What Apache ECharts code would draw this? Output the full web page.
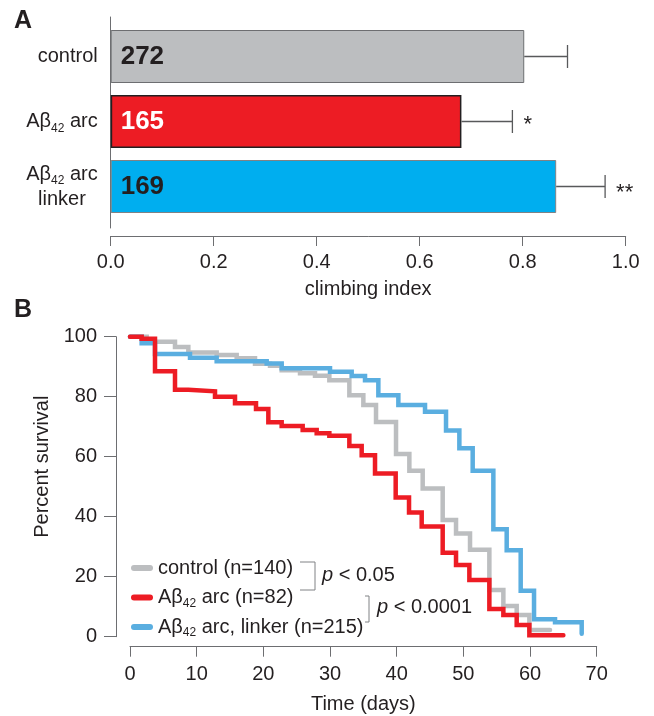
<!DOCTYPE html>
<html><head><meta charset="utf-8">
<script src="https://cdn.jsdelivr.net/npm/echarts@6/dist/echarts.min.js"></script>
<style>html,body{margin:0;padding:0;background:#fff}#c{width:654px;height:716px}</style>
</head><body><div id="c"></div>
<script>
// ---------- Panel A data ----------
const climbCategories = ['control', 'Aβ42 arc', 'Aβ42 arc linker'];
const climbMeans = [0.803, 0.681, 0.865];
const climbErrors = [0.084, 0.099, 0.095];
const climbCounts = ['272', '165', '169'];
const climbStars = ['', '*', '**'];
const climbTicks = ['0.0', '0.2', '0.4', '0.6', '0.8', '1.0'];

// ---------- Panel B data ----------
const survivalNames = ['control', 'Aβ42 arc', 'Aβ42 arc, linker'];
const survivalN = [140, 82, 215];
const controlSurvival = [[0,100],[2.5,98.3],[6.75,96.6],[8.75,94.7],[13,93.9],[16,92.8],[18.75,91],[21,90.3],[22.75,88.8],[25.5,87.8],[27.75,87],[29.9,85.5],[32.9,80.5],[35,77.2],[36.9,71.6],[39.9,60.9],[41.9,55.3],[43.9,49.4],[46.9,38.9],[48.9,34.4],[51,29],[53.9,15.6],[56,10.2],[58,7.2],[59.9,2.2],[63,2.2]];
const arcSurvival = [[0,100],[1.75,99.3],[3.75,88.5],[6.75,82.3],[8.75,81.8],[12.75,80],[15.75,77.8],[18.9,75.9],[20.75,71.5],[22.75,70.2],[25.9,68.9],[28,67.8],[29.9,67],[32.9,63.6],[34.75,60.5],[36.75,54.4],[39.85,46.4],[41.85,41.4],[43.75,36.7],[46.9,28],[48.9,23.9],[50.9,18.9],[53.9,9.2],[56,7.2],[58,3.9],[59.9,0.5],[65,0.5]];
const linkerSurvival = [[0,100],[1.75,97.8],[3.75,94.2],[9,93],[13,91.8],[20.5,91.1],[22.75,89.5],[30,88.3],[33.25,86.9],[35.25,85.5],[37.25,80.5],[40.25,77.2],[44.25,75],[47.4,68.7],[49.4,62.8],[51.4,55.3],[54.5,35.8],[56.5,28.8],[58.6,15.3],[60.6,5.8],[63.75,4.8],[67.75,1]];
const survivalTicksX = [0,10,20,30,40,50,60,70];
const survivalTicksY = [0,20,40,60,80,100];

// ---------- styles ----------
const FONT = '"Liberation Sans", Arial, Helvetica, sans-serif';
const TXT = '#231F20';
const AXIS = '#6D6E71';
const barFill = ['#BCBEC0', '#ED1C24', '#00AEEF'];
const barBorder = ['#6D6E71', '#231F20', '#808285'];
const barBorderW = [1, 1.5, 1];
const countColor = ['#231F20', '#FFFFFF', '#231F20'];
const survColors = ['#BCBEC0', '#ED1C24', '#5AAEE0'];
const starOffsetY = [0, 3, 6];

const catLabels = ['{a|control}', '{a|Aβ}{s|42}{a| arc}', '{a|Aβ}{s|42}{a| arc}\n{l|linker}'];
const legendLabels = {};
survivalNames.forEach((n, i) => {
  const txt = n + ' (n=' + survivalN[i] + ')';
  legendLabels[n] = txt.indexOf('Aβ42') === 0 ? '{a|Aβ}{s|42}{a|' + txt.slice(4) + '}' : '{a|' + txt + '}';
});

const chart = echarts.init(document.getElementById('c'), null, {renderer: 'canvas'});
const option = {
  backgroundColor: '#fff',
  animation: false,
  textStyle: {fontFamily: FONT},
  grid: [
    {left: 110.7, top: 24, height: 195, width: 515},
    {left: 110.7, top: 17, height: 211, width: 20},
    {left: 130, top: 336.7, height: 300, width: 466.7}
  ],
  xAxis: [
    {gridIndex: 0, type: 'value', min: 0, max: 1, interval: 0.2, offset: 17,
     axisLine: {show: true, onZero: false, lineStyle: {color: AXIS, width: 1}},
     axisTick: {show: true, length: 10, lineStyle: {color: AXIS}},
     splitLine: {show: false},
     axisLabel: {margin: 16, fontSize: 20, color: TXT, fontFamily: FONT,
       formatter: (v) => climbTicks[Math.round(v / 0.2)]},
     name: 'climbing index', nameLocation: 'middle', nameGap: 43,
     nameTextStyle: {fontSize: 20, color: TXT, fontFamily: FONT}},
    {gridIndex: 1, type: 'value', min: 0, max: 1, show: false},
    {gridIndex: 2, type: 'value', min: 0, max: 70, interval: 10, offset: 10,
     axisLine: {show: true, onZero: false, lineStyle: {color: AXIS, width: 1}},
     axisTick: {show: true, length: 10, lineStyle: {color: AXIS}},
     splitLine: {show: false},
     axisLabel: {margin: 18, fontSize: 20, color: TXT, fontFamily: FONT,
       formatter: (v) => String(survivalTicksX[Math.round(v / 10)])},
     name: 'Time (days)', nameLocation: 'middle', nameGap: 48,
     nameTextStyle: {fontSize: 20, color: TXT, fontFamily: FONT}}
  ],
  yAxis: [
    {gridIndex: 0, type: 'category', data: climbCategories, inverse: true,
     axisLine: {show: false}, axisTick: {show: false}, splitLine: {show: false},
     axisLabel: {margin: 13, color: TXT, fontFamily: FONT,
       formatter: (v, i) => catLabels[i],
       rich: {
         a: {fontSize: 20, lineHeight: 26, color: TXT, fontFamily: FONT},
         s: {fontSize: 12, lineHeight: 12, verticalAlign: 'bottom', color: TXT, fontFamily: FONT},
         l: {fontSize: 20, lineHeight: 25, width: 71, align: 'center', color: TXT, fontFamily: FONT}
       }}},
    {gridIndex: 1, type: 'value', min: 0, max: 1,
     axisLine: {show: true, onZero: false, lineStyle: {color: AXIS, width: 1}},
     axisTick: {show: false}, axisLabel: {show: false}, splitLine: {show: false}},
    {gridIndex: 2, type: 'value', min: 0, max: 100, interval: 20, offset: 14,
     axisLine: {show: true, onZero: false, lineStyle: {color: AXIS, width: 1}},
     axisTick: {show: true, length: 12, lineStyle: {color: AXIS}},
     splitLine: {show: false},
     axisLabel: {margin: 19, fontSize: 20, color: TXT, fontFamily: FONT,
       formatter: (v) => String(survivalTicksY[Math.round(v / 20)])},
     name: 'Percent survival', nameLocation: 'middle', nameGap: 48, nameRotate: 90,
     nameTextStyle: {fontSize: 20, color: TXT, fontFamily: FONT, padding: [0, 0, 0, 40]}}
  ],
  legend: {
    orient: 'vertical', left: 126, top: 551, itemWidth: 22, itemHeight: 6, itemGap: 5.5,
    icon: 'path://M3,0H19A3,3,0,0,1,19,6H3A3,3,0,0,1,3,0Z',
    selectedMode: false,
    data: survivalNames,
    formatter: (name) => legendLabels[name],
    textStyle: {fontSize: 20, color: TXT, fontFamily: FONT, lineHeight: 24,
      rich: {
        a: {fontSize: 20, lineHeight: 24, color: TXT, fontFamily: FONT},
        s: {fontSize: 12, lineHeight: 11, verticalAlign: 'bottom', color: TXT, fontFamily: FONT}
      }}
  },
  graphic: [
    {type: 'text', left: 14, top: 9, style: {text: 'A', font: 'bold 25px ' + FONT, fill: TXT}},
    {type: 'text', left: 14, top: 298, style: {text: 'B', font: 'bold 25px ' + FONT, fill: TXT}},
    {type: 'polyline', shape: {points: [[300, 562], [315, 562], [315, 590], [300, 590]]},
     style: {stroke: '#808285', lineWidth: 1, fill: null}},
    {type: 'polyline', shape: {points: [[365, 596], [369, 596], [369, 622], [365, 622]]},
     style: {stroke: '#808285', lineWidth: 1, fill: null}},
    {type: 'text', x: 322, y: 575, style: {text: '{i|p}{n| < 0.05}', verticalAlign: 'middle', align: 'left',
      rich: {i: {fontStyle: 'italic', fontSize: 20, fontFamily: FONT, fill: TXT}, n: {fontSize: 20, fontFamily: FONT, fill: TXT}}}},
    {type: 'text', x: 377, y: 607, style: {text: '{i|p}{n| < 0.0001}', verticalAlign: 'middle', align: 'left',
      rich: {i: {fontStyle: 'italic', fontSize: 20, fontFamily: FONT, fill: TXT}, n: {fontSize: 20, fontFamily: FONT, fill: TXT}}}}
  ],
  series: [
    {type: 'bar', xAxisIndex: 0, yAxisIndex: 0, barWidth: 53,
     data: climbMeans.map((v, i) => ({
       value: v,
       itemStyle: {color: barFill[i], borderColor: barBorder[i], borderWidth: barBorderW[i]},
       label: {color: countColor[i]}
     })),
     label: {show: true, position: 'insideLeft', distance: 10, fontSize: 26, fontWeight: 'bold', fontFamily: FONT,
       formatter: (p) => climbCounts[p.dataIndex]}},
    {type: 'custom', xAxisIndex: 0, yAxisIndex: 0, z: 3,
     data: climbMeans.map((v, i) => [v, i, climbErrors[i]]),
     encode: {x: 0, y: 1},
     renderItem: function (params, api) {
       const idx = api.value(1);
       const m = api.value(0);
       const p0 = api.coord([m, idx]);
       const p1 = api.coord([m + api.value(2), idx]);
       const h = 11.5;
       const st = {stroke: '#58595B', lineWidth: 1.3};
       const children = [
         {type: 'line', shape: {x1: p0[0], y1: p0[1], x2: p1[0], y2: p1[1]}, style: st},
         {type: 'line', shape: {x1: p1[0], y1: p1[1] - h, x2: p1[0], y2: p1[1] + h}, style: st}
       ];
       const star = climbStars[params.dataIndex];
       if (star) {
         children.push({type: 'text', style: {text: star, x: p1[0] + 11, y: p1[1] + starOffsetY[params.dataIndex],
           font: '22px ' + FONT, fill: TXT, align: 'left', verticalAlign: 'middle'}});
       }
       return {type: 'group', children: children};
     }},
    {type: 'line', name: survivalNames[0], xAxisIndex: 2, yAxisIndex: 2, step: 'end', data: controlSurvival,
     showSymbol: false, symbol: 'none', clip: false, color: survColors[0], z: 2,
     lineStyle: {width: 4.5, color: survColors[0], cap: 'round', join: 'miter'}},
    {type: 'line', name: survivalNames[2], xAxisIndex: 2, yAxisIndex: 2, step: 'end', data: linkerSurvival,
     showSymbol: false, symbol: 'none', clip: false, color: survColors[2], z: 3,
     lineStyle: {width: 4.5, color: survColors[2], cap: 'round', join: 'miter'}},
    {type: 'line', name: survivalNames[1], xAxisIndex: 2, yAxisIndex: 2, step: 'end', data: arcSurvival,
     showSymbol: false, symbol: 'none', clip: false, color: survColors[1], z: 4,
     lineStyle: {width: 4.5, color: survColors[1], cap: 'round', join: 'miter'}}
  ]
};
chart.setOption(option);
</script></body></html>
